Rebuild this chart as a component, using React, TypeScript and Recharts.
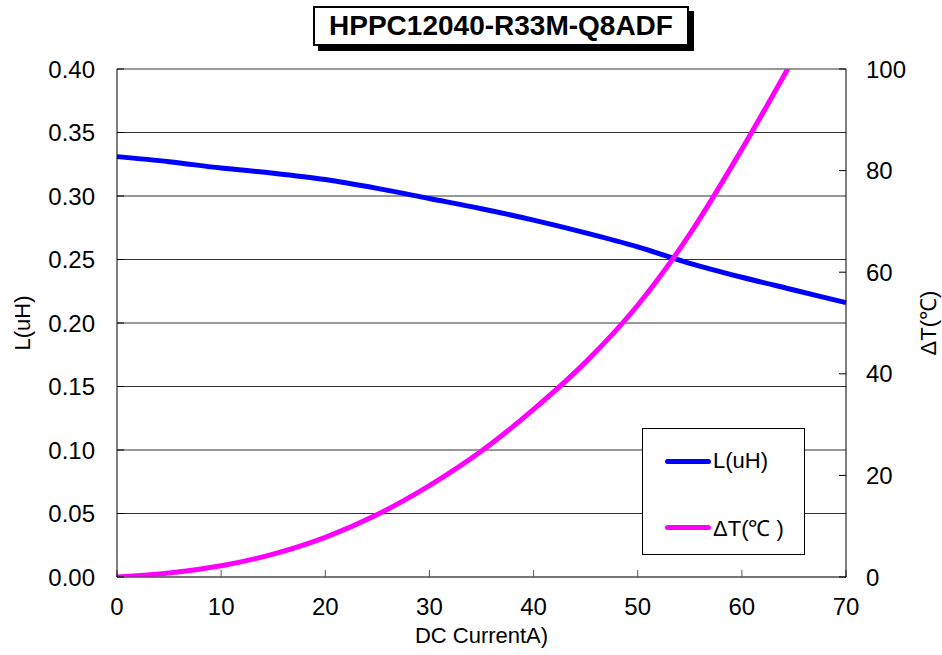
import React from "react";
import { LineChart, Line, XAxis, YAxis, CartesianGrid, Legend } from "recharts";

const current = [0, 5, 10, 15, 20, 25, 30, 35, 40, 45, 50, 55, 60, 65, 70];
const inductance = [0.331, 0.327, 0.322, 0.318, 0.313, 0.306, 0.298, 0.29, 0.281, 0.271, 0.26, 0.247, 0.236, 0.226, 0.216];
const tempRise = [0, 0.8, 2.2, 4.5, 7.8, 12.3, 18, 24.8, 33, 42.3, 53.5, 67.5, 84.2, 102.2, null];

const xTicks = [0, 10, 20, 30, 40, 50, 60, 70];
const lTicks = [0, 0.05, 0.1, 0.15, 0.2, 0.25, 0.3, 0.35, 0.4];
const tTicks = [0, 20, 40, 60, 80, 100];

const data = current.map((c, i) => ({ current: c, L: inductance[i], dT: tempRise[i] }));

const FONT = "'Liberation Sans', Arial, sans-serif";

const VerticalTitle = ({ viewBox, value, side }: any) => {
    const cx = side === "left" ? viewBox.x + 22 : viewBox.x + viewBox.width - 14;
    const cy = viewBox.y + viewBox.height / 2;
    return (
        <text x={cx} y={cy} transform={`rotate(-90 ${cx} ${cy})`} textAnchor="middle" dominantBaseline="central"
            fontSize={22} fontFamily={FONT} fill="#000">
            {value}
        </text>
    );
};

const LegendBox = () => (
    <div style={{ width: 163, height: 127, border: "1.5px solid #000", background: "#fff", boxSizing: "border-box", fontFamily: FONT, fontSize: 22, color: "#000" }}>
        <div style={{ display: "flex", alignItems: "center", marginTop: 19, marginLeft: 22 }}>
            <span style={{ display: "inline-block", width: 46, height: 5, borderRadius: 3, background: "#0000ff" }} />
            <span style={{ marginLeft: 2 }}>L(uH)</span>
        </div>
        <div style={{ display: "flex", alignItems: "center", marginTop: 38, marginLeft: 22 }}>
            <span style={{ display: "inline-block", width: 46, height: 5, borderRadius: 3, background: "#ff00ff" }} />
            <span style={{ marginLeft: 2 }}>ΔT(℃ )</span>
        </div>
    </div>
);

export default function App() {
    return (
        <div style={{ position: "absolute", left: 0, top: 0, width: 942, height: 655, background: "#fff", fontFamily: FONT }}>
            <div style={{ position: "absolute", left: 313, top: 6, width: 372, height: 36, border: "2px solid #000", boxShadow: "5px 5px 0 #000", background: "#fff", display: "flex", alignItems: "center", justifyContent: "center", fontWeight: "bold", fontSize: 28, zIndex: 2 }}>
                HPPC12040-R33M-Q8ADF
            </div>
            <LineChart width={942} height={655} data={data} margin={{ top: 69, right: 0, bottom: 0, left: 0 }}>
                <CartesianGrid yAxisId="left" vertical={false} stroke="#333" />
                <XAxis
                    dataKey="current"
                    type="number"
                    domain={[0, 70]}
                    ticks={xTicks}
                    height={78}
                    stroke="#555"
                    tickSize={-7}
                    tickMargin={28}
                    tick={{ fontSize: 24, fill: "#000", fontFamily: FONT }}
                    label={{ value: "DC CurrentA)", position: "insideBottom", offset: 12, fontSize: 22, fill: "#000", fontFamily: FONT }}
                />
                <YAxis
                    yAxisId="left"
                    domain={[0, 0.4]}
                    ticks={lTicks}
                    width={117}
                    stroke="#000"
                    tickSize={-7}
                    tickMargin={29}
                    tickFormatter={(v: number) => v.toFixed(2)}
                    tick={{ fontSize: 24, fill: "#000", fontFamily: FONT }}
                    label={<VerticalTitle value="L(uH)" side="left" />}
                />
                <YAxis
                    yAxisId="right"
                    orientation="right"
                    domain={[0, 100]}
                    ticks={tTicks}
                    allowDataOverflow
                    width={96}
                    stroke="#000"
                    tickSize={-7}
                    tickMargin={27}
                    tick={{ fontSize: 24, fill: "#000", fontFamily: FONT }}
                    label={<VerticalTitle value="ΔT(℃)" side="right" />}
                />
                <Legend
                    layout="horizontal"
                    verticalAlign="middle"
                    align="center"
                    wrapperStyle={{ position: "absolute", left: 642, top: 428, width: 164 }}
                    content={() => <LegendBox />}
                />
                <Line yAxisId="left" type="monotone" dataKey="L" name="L(uH)" stroke="#0000ff" strokeWidth={5} dot={false} isAnimationActive={false} />
                <Line yAxisId="right" type="monotone" dataKey="dT" name="ΔT(℃)" stroke="#ff00ff" strokeWidth={5} dot={false} isAnimationActive={false} />
            </LineChart>
        </div>
    );
}
